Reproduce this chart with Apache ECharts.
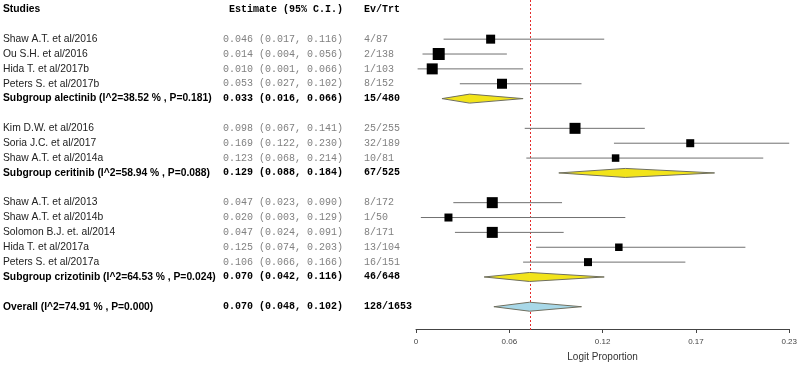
<!DOCTYPE html>
<html>
<head>
<meta charset="utf-8">
<script src="https://cdn.jsdelivr.net/npm/echarts@6/dist/echarts.min.js"></script>
<style>
  html, body { margin: 0; padding: 0; background: #fff; }
  #chart { width: 800px; height: 367px; }
</style>
</head>
<body>
<div id="chart"></div>
<script>
// individual studies
const studyNames = [
  'Shaw A.T. et al/2016', 'Ou S.H. et al/2016', 'Hida T. et al/2017b', 'Peters S. et al/2017b',
  'Kim D.W. et al/2016', 'Soria J.C. et al/2017', 'Shaw A.T. et al/2014a',
  'Shaw A.T. et al/2013', 'Shaw A.T. et al/2014b', 'Solomon B.J. et. al/2014', 'Hida T. et al/2017a', 'Peters S. et al/2017a'
]
const studyGroup = [0, 0, 0, 0, 1, 1, 1, 2, 2, 2, 2, 2]
const studyEst = [0.046, 0.014, 0.010, 0.053, 0.098, 0.169, 0.123, 0.047, 0.020, 0.047, 0.125, 0.106]
const studyLo = [0.017, 0.004, 0.001, 0.027, 0.067, 0.122, 0.068, 0.023, 0.003, 0.024, 0.074, 0.066]
const studyHi = [0.116, 0.056, 0.066, 0.102, 0.141, 0.230, 0.214, 0.090, 0.129, 0.091, 0.203, 0.166]
const studyEvents = [4, 2, 1, 8, 25, 32, 10, 8, 1, 8, 13, 16]
const studyTotals = [87, 138, 103, 152, 255, 189, 81, 172, 50, 171, 104, 151]
// relative study weight (drives square size)
const studyWeights = [9, 12, 11, 10, 11, 8, 7.5, 11, 8, 11, 7.5, 8]

// subgroups
const subgroupNames = ['alectinib', 'ceritinib', 'crizotinib']
const subgroupI2 = ['38.52', '58.94', '64.53']
const subgroupP = ['0.181', '0.088', '0.024']
const subgroupEst = [0.033, 0.129, 0.070]
const subgroupLo = [0.016, 0.088, 0.042]
const subgroupHi = [0.066, 0.184, 0.116]
const subgroupEvents = [15, 67, 46]
const subgroupTotals = [480, 525, 648]

// overall
const overallI2 = '74.91'
const overallP = '0.000'
const overallEst = 0.070
const overallLo = 0.048
const overallHi = 0.102
const overallEvents = 128
const overallTotals = 1653

const xTickLabels = ['0', '0.06', '0.12', '0.17', '0.23']

const fmtCI = (e, l, h) => `${e.toFixed(3)} (${l.toFixed(3)}, ${h.toFixed(3)})`

// build the table rows (header, studies, subgroups, blank spacers)
const nameCol = ['Studies', '']
const estCol = [' Estimate (95% C.I.)', '']
const evCol = ['Ev/Trt', '']
const boldRow = [true, false]
const studyPoints = []
const diamondPoints = []

subgroupNames.forEach((g, gi) => {
  studyNames.forEach((s, i) => {
    if (studyGroup[i] !== gi) return
    studyPoints.push([studyEst[i], nameCol.length, studyLo[i], studyHi[i], studyWeights[i]])
    nameCol.push(s)
    estCol.push(fmtCI(studyEst[i], studyLo[i], studyHi[i]))
    evCol.push(`${studyEvents[i]}/${studyTotals[i]}`)
    boldRow.push(false)
  })
  diamondPoints.push([subgroupEst[gi], nameCol.length, subgroupLo[gi], subgroupHi[gi], 0])
  nameCol.push(`Subgroup ${g} (I^2=${subgroupI2[gi]} % , P=${subgroupP[gi]})`)
  estCol.push(fmtCI(subgroupEst[gi], subgroupLo[gi], subgroupHi[gi]))
  evCol.push(`${subgroupEvents[gi]}/${subgroupTotals[gi]}`)
  boldRow.push(true)
  nameCol.push(''); estCol.push(''); evCol.push(''); boldRow.push(false)
})
diamondPoints.push([overallEst, nameCol.length, overallLo, overallHi, 1])
nameCol.push(`Overall (I^2=${overallI2} % , P=${overallP})`)
estCol.push(fmtCI(overallEst, overallLo, overallHi))
evCol.push(`${overallEvents}/${overallTotals}`)
boldRow.push(true)
nameCol.push(''); estCol.push(''); evCol.push(''); boldRow.push(false)

const rowIds = nameCol.map((_, i) => String(i))
const monoFont = '"Liberation Mono", "DejaVu Sans Mono", monospace'
const sansFont = '"Liberation Sans", Arial, sans-serif'

// 表格列：用多个 y 轴的标签来画
function columnAxis(texts, margin, font, size, color) {
  return {
    type: 'category',
    data: rowIds,
    inverse: true,
    position: 'left',
    axisLine: { show: false },
    axisTick: { show: false },
    splitLine: { show: false },
    axisLabel: {
      interval: 0,
      align: 'left',
      margin: margin,
      fontFamily: font,
      fontSize: size,
      color: color,
      formatter: (v, i) => (texts[i] ? (boldRow[i] ? '{b|' + texts[i] + '}' : texts[i]) : ''),
      rich: {
        b: { fontFamily: font, fontSize: size, fontWeight: 'bold', color: '#000' }
      }
    }
  }
}

const chart = echarts.init(document.getElementById('chart'))

chart.setOption({
  animation: false,
  grid: { left: 416, right: 9, top: 2, height: 329 },
  xAxis: {
    type: 'value',
    min: 0,
    max: 0.23,
    interval: 0.0575,
    splitLine: { show: false },
    axisLine: { show: true, lineStyle: { color: '#444', width: 1 } },
    axisTick: { show: true, length: 4, lineStyle: { color: '#444' } },
    axisLabel: {
      fontFamily: sansFont,
      fontSize: 8,
      color: '#444',
      margin: 9,
      formatter: (v, i) => xTickLabels[i]
    },
    name: 'Logit Proportion',
    nameLocation: 'middle',
    nameGap: 23,
    nameTextStyle: { fontFamily: sansFont, fontSize: 10, color: '#333' }
  },
  yAxis: [
    columnAxis(nameCol, 413, sansFont, 10.3, '#222'),
    columnAxis(estCol, 193, monoFont, 10, '#808080'),
    columnAxis(evCol, 52, monoFont, 10, '#808080')
  ],
  series: [
    {
      // 总体估计的参考线（红色虚线）
      type: 'custom',
      name: 'overall line',
      data: [[overallEst, 0]],
      z: 1,
      renderItem: (params, api) => {
        const x = Math.round(api.coord([api.value(0), 0])[0]) + 0.5
        const cs = params.coordSys
        return {
          type: 'line',
          shape: { x1: x, y1: cs.y - 2, x2: x, y2: cs.y + cs.height + 3 },
          style: { stroke: '#e52b2b', lineWidth: 1, lineDash: [2, 2] }
        }
      }
    },
    {
      type: 'custom',
      name: 'studies',
      data: studyPoints,
      z: 2,
      renderItem: (params, api) => {
        const row = api.value(1)
        const c = api.coord([api.value(0), row])
        const a = api.coord([api.value(2), row])
        const b = api.coord([api.value(3), row])
        const s = api.value(4)
        return {
          type: 'group',
          children: [
            { type: 'line', shape: { x1: a[0], y1: a[1], x2: b[0], y2: b[1] }, style: { stroke: '#707070', lineWidth: 1 } },
            { type: 'rect', shape: { x: c[0] - s / 2, y: c[1] - s / 2, width: s, height: s }, style: { fill: '#000' } }
          ]
        }
      }
    },
    {
      type: 'custom',
      name: 'pooled',
      data: diamondPoints,
      z: 2,
      renderItem: (params, api) => {
        const row = api.value(1)
        const c = api.coord([api.value(0), row])
        const a = api.coord([api.value(2), row])
        const b = api.coord([api.value(3), row])
        const h = 4.5
        const isOverall = api.value(4) === 1
        return {
          type: 'polygon',
          shape: { points: [[a[0], c[1]], [c[0], c[1] - h], [b[0], c[1]], [c[0], c[1] + h]] },
          style: { fill: isOverall ? '#a8d8e8' : '#f2e41a', stroke: '#6f6f5f', lineWidth: 1 }
        }
      }
    }
  ]
})
</script>
</body>
</html>
